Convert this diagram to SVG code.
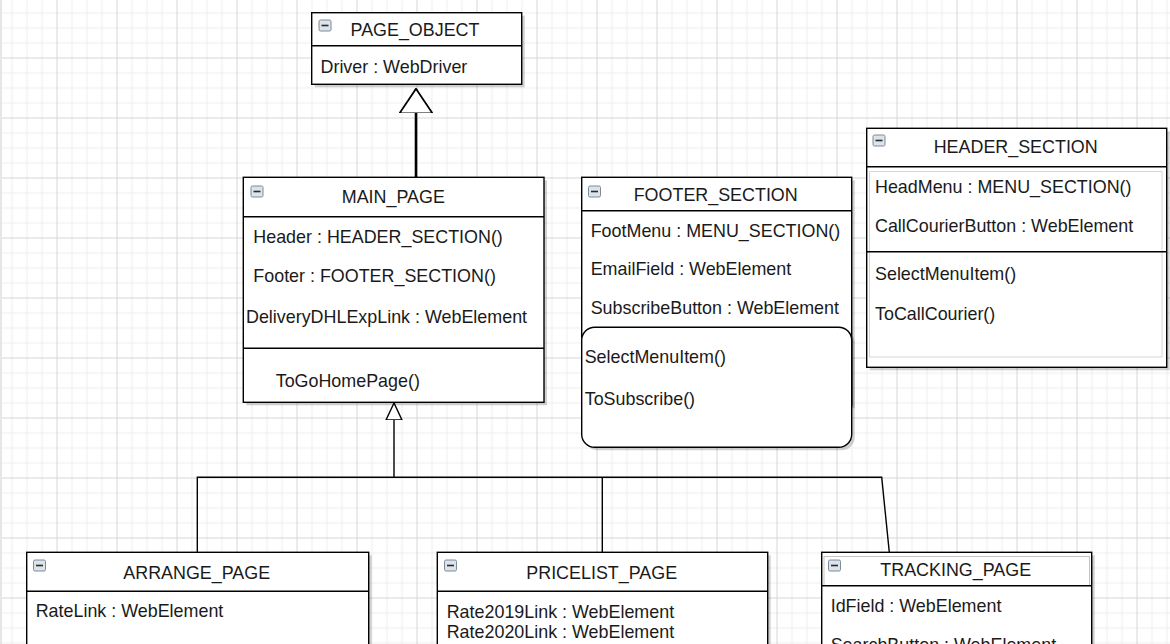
<svg xmlns="http://www.w3.org/2000/svg" xmlns:xlink="http://www.w3.org/1999/xlink" width="1170" height="644" viewBox="0 0 1170 644">
<style>
.box{fill:#ffffff;stroke:#000000;stroke-width:1.4}
.sh{fill:#000000;opacity:0.18}
.ln{fill:none;stroke:#000000;stroke-width:1.4}
.t{font-family:"Liberation Sans",Arial,sans-serif;font-size:17.9px;fill:#1a1a1a}
.c{text-anchor:middle}
.edge{fill:none;stroke:#000000;stroke-width:1.4}
</style>
<defs>
<pattern id="grid" x="-3.5" y="-2.5" width="60" height="60" patternUnits="userSpaceOnUse">
<path d="M15.5 0V60M30.5 0V60M45.5 0V60M0 15.5H60M0 30.5H60M0 45.5H60" stroke="#f1f1f1" stroke-width="1.5" fill="none"/>
<path d="M0.5 0V60M0 0.5H60" stroke="#d6d6d6" stroke-width="1" fill="none"/>
</pattern>
<g id="ico">
<rect x="0.5" y="0.5" width="12" height="11" rx="1.5" fill="#dde3ea" stroke="#7d8a98" stroke-width="1"/>
<line x1="3" y1="6" x2="10" y2="6" stroke="#2b2b2b" stroke-width="1.6"/>
</g>
<marker id="genBig" viewBox="0 -17 25 34" refX="24.5" refY="0" markerWidth="25" markerHeight="34" markerUnits="userSpaceOnUse" orient="auto">
<path d="M24.5 0L0 -16.5L0 16.5Z" fill="#ffffff" stroke="#000000" stroke-width="1.8"/>
</marker>
<marker id="genSmall" viewBox="0 -9 18 18" refX="17" refY="0" markerWidth="18" markerHeight="18" markerUnits="userSpaceOnUse" orient="auto">
<path d="M17 0L0 -8L0 8Z" fill="#ffffff" stroke="#000000" stroke-width="1.4"/>
</marker>
</defs>
<rect width="1170" height="644" fill="#ffffff"/>
<rect width="1170" height="644" fill="url(#grid)"/>
<rect x="0" y="0" width="2" height="644" fill="#e6e6e6"/>

<g id="connectors">
<path d="M416 177.3V88.8" class="edge" style="stroke-width:2.6" marker-end="url(#genBig)"/>
<path d="M394 477.3V403" class="edge" marker-end="url(#genSmall)"/>
<path d="M197.3 552.3V477.3H881.7L889.3 552.3M602.3 477.3V552.3" class="edge"/>
</g>

<g id="page_object">
<rect x="314.7" y="15.7" width="210" height="71.6" class="sh"/>
<rect x="311.7" y="12.7" width="210" height="71.6" class="box"/>
<line x1="311.7" y1="45.7" x2="521.7" y2="45.7" class="ln"/>
<use xlink:href="#ico" x="318.5" y="19.5"/>
<text x="415" y="36" class="t c">PAGE_OBJECT</text>
<text x="320.5" y="72.7" class="t">Driver : WebDriver</text>
</g>

<g id="main_page">
<rect x="246.3" y="180.3" width="300.7" height="225" class="sh"/>
<rect x="243.3" y="177.3" width="300.7" height="225" class="box"/>
<line x1="243.3" y1="216.7" x2="544" y2="216.7" class="ln"/>
<line x1="243.3" y1="348.3" x2="544" y2="348.3" class="ln"/>
<use xlink:href="#ico" x="250.5" y="185.5"/>
<text x="393.3" y="203.3" class="t c">MAIN_PAGE</text>
<text x="253.3" y="242.7" class="t">Header : HEADER_SECTION()</text>
<text x="253.3" y="281.7" class="t">Footer : FOOTER_SECTION()</text>
<text x="246" y="323.3" class="t">DeliveryDHLExpLink : WebElement</text>
<text x="275.7" y="386.7" class="t">ToGoHomePage()</text>
</g>

<g id="footer_section">
<rect x="584.7" y="180.3" width="270" height="228" class="sh"/>
<rect x="581.7" y="177.3" width="270" height="228" class="box"/>
<line x1="581.7" y1="210.7" x2="851.7" y2="210.7" class="ln"/>
<rect x="584.7" y="330.3" width="270" height="120" rx="13" class="sh"/>
<rect x="581.7" y="327.3" width="270" height="120" rx="13" class="box"/>
<use xlink:href="#ico" x="588" y="185.5"/>
<text x="715.7" y="200.7" class="t c">FOOTER_SECTION</text>
<text x="590.7" y="236.7" class="t">FootMenu : MENU_SECTION()</text>
<text x="590.7" y="275.3" class="t">EmailField : WebElement</text>
<text x="590.7" y="314.3" class="t">SubscribeButton : WebElement</text>
<text x="584.7" y="362.7" class="t">SelectMenuItem()</text>
<text x="584.7" y="405" class="t">ToSubscribe()</text>
</g>

<g id="header_section">
<rect x="869.7" y="131.3" width="300" height="239" class="sh"/>
<rect x="866.7" y="128.3" width="300" height="239" class="box"/>
<line x1="866.7" y1="166.7" x2="1166.7" y2="166.7" class="ln"/>
<rect x="869.5" y="171.5" width="292.5" height="185.5" fill="none" stroke="#d6d6d6" stroke-width="1"/>
<line x1="866.7" y1="251.7" x2="1166.7" y2="251.7" class="ln"/>
<use xlink:href="#ico" x="872.5" y="134.5"/>
<text x="1015.7" y="153.3" class="t c">HEADER_SECTION</text>
<text x="875" y="193.3" class="t">HeadMenu : MENU_SECTION()</text>
<text x="875" y="232.3" class="t">CallCourierButton : WebElement</text>
<text x="875" y="280" class="t">SelectMenuItem()</text>
<text x="875" y="320" class="t">ToCallCourier()</text>
</g>

<g id="arrange_page">
<rect x="29.7" y="555.3" width="342" height="150" class="sh"/>
<rect x="26.7" y="552.3" width="342" height="150" class="box"/>
<line x1="26.7" y1="591.3" x2="368.7" y2="591.3" class="ln"/>
<use xlink:href="#ico" x="33" y="559.5"/>
<text x="196.7" y="579" class="t c">ARRANGE_PAGE</text>
<text x="35.7" y="617.3" class="t">RateLink : WebElement</text>
</g>

<g id="pricelist_page">
<rect x="440.3" y="555.3" width="330.4" height="150" class="sh"/>
<rect x="437.3" y="552.3" width="330.4" height="150" class="box"/>
<line x1="437.3" y1="591.3" x2="767.7" y2="591.3" class="ln"/>
<use xlink:href="#ico" x="444" y="559.5"/>
<text x="601.7" y="579" class="t c">PRICELIST_PAGE</text>
<text x="446.7" y="617.7" class="t">Rate2019Link : WebElement</text>
<text x="446.7" y="638.3" class="t">Rate2020Link : WebElement</text>
</g>

<g id="tracking_page">
<rect x="824.7" y="555.3" width="270" height="150" class="sh"/>
<rect x="821.7" y="552.3" width="270" height="150" class="box"/>
<rect x="824" y="556.5" width="265.5" height="29" fill="none" stroke="#c4c4c4" stroke-width="1"/>
<line x1="821.7" y1="585.7" x2="1091.7" y2="585.7" class="ln"/>
<use xlink:href="#ico" x="828" y="559.5"/>
<text x="955.7" y="575.7" class="t c">TRACKING_PAGE</text>
<text x="830.7" y="611.7" class="t">IdField : WebElement</text>
<text x="830.7" y="651" class="t">SearchButton : WebElement</text>
</g>
</svg>
